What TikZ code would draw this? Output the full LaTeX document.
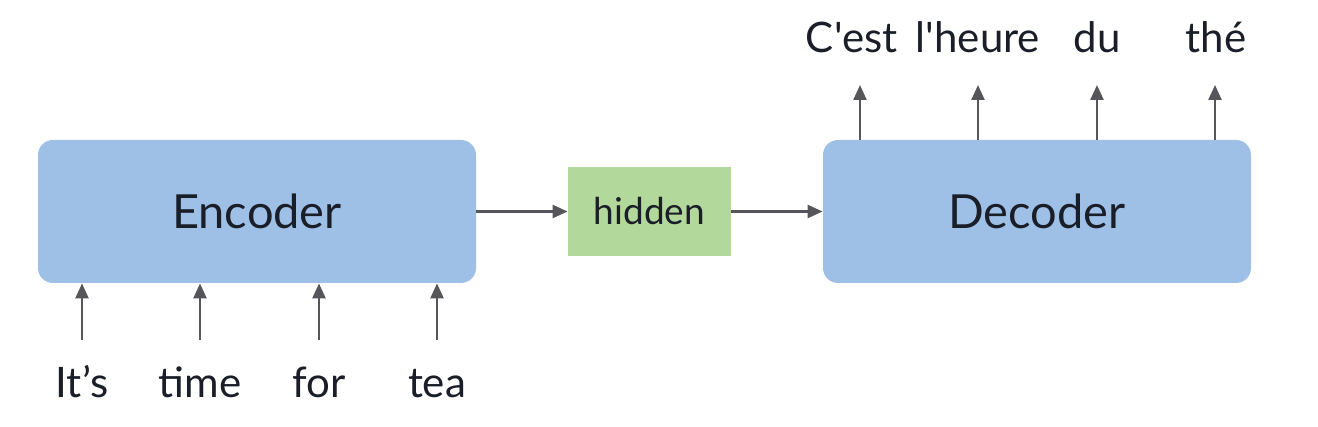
\documentclass[tikz,border=0pt]{standalone}
\usepackage{fontspec}
\setmainfont{Lato}
\usepackage{xcolor}
\usetikzlibrary{arrows.meta,
                calc,
                positioning}

\definecolor{boxblue}{RGB}{158,191,230}
\definecolor{boxgreen}{RGB}{179,216,155}
\definecolor{arrgray}{RGB}{85,85,90}
\definecolor{txtdark}{RGB}{26,30,40}

\tikzset{
  coder/.style={rounded corners=7.5pt, fill=boxblue, draw=none,
                minimum width=#1, minimum height=71.5pt,
                font=\fontsize{23.5}{28}\selectfont, text=txtdark},
  hid/.style={fill=boxgreen, draw=none, minimum width=81.5pt,
              minimum height=44.5pt, font=\fontsize{18.5}{22}\selectfont,
              text=txtdark},
  word/.style={anchor=base, inner sep=0pt, font=\fontsize{21}{25}\selectfont,
               text=txtdark},
  arr/.style={draw=arrgray, line width=1.2pt,
              -{Triangle[length=7.5pt,width=6.5pt]}}
}

\begin{document}
\begin{tikzpicture}[x=0.5pt,y=-0.5pt]
\useasboundingbox (0,0) rectangle (1318,427);

\node[coder=219pt] (enc) at (257,211.5) {Encoder};
\node[hid] (hidden) at (649.5,211.5) {hidden};
\node[coder=214pt] (dec) at (1037,211.5) {Decoder};

\draw[arr] (enc.east) -- (hidden.west);
\draw[arr] (hidden.east) -- (dec.west);

% input words
\foreach \x/\w [count=\i] in {82/It’s,200/time,319/for,437/tea}{
  \node[word] (in\i) at (\x,398) {\w};
  \coordinate (s\i) at (\x,340);
  \draw[arr] (s\i) -- (s\i |- enc.south);
}

% output words
\foreach \x/\lx/\w [count=\i] in {860/852/C\textquotesingle est,978/978/l\textquotesingle heure,1097/1097/du,1215/1216/thé}{
  \node[word] (out\i) at (\lx,53) {\w};
  \coordinate (t\i) at (\x,85);
  \draw[arr] (t\i |- dec.north) -- (t\i);
}
\end{tikzpicture}
\end{document}
